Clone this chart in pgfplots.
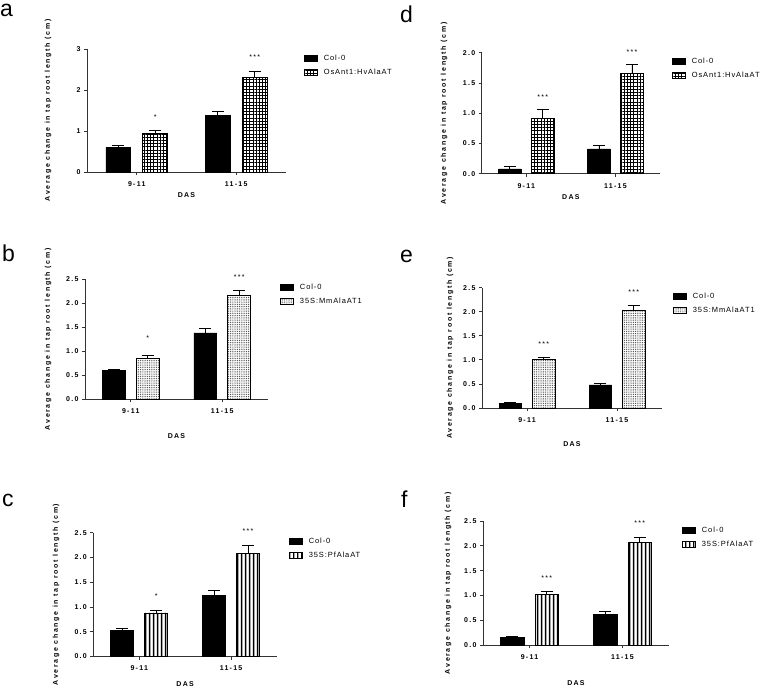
\documentclass[border=0pt]{standalone}
\usepackage{fontspec}
\usepackage{pgfplots}
\pgfplotsset{compat=1.18}
\usetikzlibrary{patterns,patterns.meta}
\newfontfamily\lbl[LetterSpace=18]{Liberation Sans}
\newfontfamily\ylbl[LetterSpace=24]{Liberation Sans}
\newfontfamily\leg[LetterSpace=12]{Liberation Sans}
\newfontfamily\letterfont{Liberation Sans}

\pgfdeclarepatternformonly{vstripes}{\pgfpointorigin}{\pgfpoint{4pt}{60pt}}{\pgfpoint{4pt}{60pt}}%
  {\pgfpathrectangle{\pgfpoint{1.2pt}{0pt}}{\pgfpoint{1.6pt}{60pt}}\pgfusepath{fill}}

\tikzset{stars/.style={font=\lbl\fontsize{7}{8}\selectfont, inner sep=0pt},
  plet/.style={anchor=base west, inner sep=0pt, font=\letterfont\fontsize{23}{23}\selectfont}}
\pgfplotsset{
  boxlegend/.style={legend image code/.code={\draw[##1, line width=0.7pt] (0pt,-3pt) rectangle (13pt,3pt);}},
  colbar/.style={ybar, bar width=0.25, bar shift=0pt, fill=black, draw=black, line width=0.7pt, boxlegend},
  gridbar/.style={ybar, bar width=0.25, bar shift=0pt, draw=black, line width=0.7pt, pattern={Hatch[distance=3.2pt, line width=0.45pt]}, boxlegend},
  dotbar/.style={ybar, bar width=0.25, bar shift=0pt, draw=black, line width=0.7pt, pattern={Dots[distance=1.8pt, radius=0.5pt]}, pattern color=black!80, boxlegend},
  linebar/.style={ybar, bar width=0.25, bar shift=0pt, draw=black, line width=0.7pt, pattern=vstripes, pattern color=black, boxlegend},
  eb/.style={error bars/.cd, y dir=plus, y explicit, error bar style={line width=0.8pt, black}, error mark options={rotate=90, line width=0.8pt, black, mark size=6pt}},
  panel/.style={
    scale only axis, clip=false,
    axis x line*=bottom, axis y line*=left,
    axis line style={line width=0.8pt, black!80},
    xmin=-0.5, xmax=1.5, ymin=0,
    xtick={0,1}, xticklabels={9-11,11-15},
    tick align=outside, major tick length=3pt,
    tick style={line width=0.8pt, black!80},
    ticklabel style={font=\lbl\bfseries\fontsize{7}{8}\selectfont},
    xticklabel style={yshift=-3pt},
    /pgf/number format/assume math mode=true,
    label style={font=\lbl\bfseries\fontsize{7}{8}\selectfont},
    ylabel style={font=\ylbl\bfseries\fontsize{7}{8}\selectfont},
    ylabel={Average change in tap root length (cm)},
    xlabel={DAS},
    legend cell align=left,
    legend style={draw=none, fill=none, inner sep=0pt, row sep=7pt, column sep=6pt,
      font=\leg\fontsize{7.5}{8}\selectfont, anchor=north west, nodes={inner sep=0pt}},
  },
  halfticks/.style={ymax=2.5, ytick={0,0.5,1,1.5,2,2.5},
    yticklabel style={/pgf/number format/fixed, /pgf/number format/fixed zerofill, /pgf/number format/precision=1}},
}

\begin{document}
\begin{tikzpicture}
\useasboundingbox (0,0) rectangle (761pt,697pt);

% panel letters
\node[plet] at (0pt,680pt) {a};
\node[plet] at (2pt,435pt) {b};
\node[plet] at (2pt,190pt) {c};
\node[plet] at (400pt,674pt) {d};
\node[plet] at (400pt,434pt) {e};
\node[plet] at (401pt,189pt) {f};

% ---------- a ----------
\begin{axis}[panel, at={(87pt,525pt)}, anchor=south west, width=199pt, height=123pt,
  ymax=3, ytick={0,1,2,3},
  ylabel style={at={(axis description cs:-0.196,0.5)}, anchor=center},
  xlabel style={at={(axis description cs:0.5,0)}, anchor=center, yshift=-23pt},
  legend style={at={(1.09,0.955)}}]
\addplot[colbar, eb] coordinates {(-0.185,0.60) +- (0,0.04) (0.815,1.39) +- (0,0.08)};
\addlegendentry{Col-0}
\addplot[gridbar, eb] coordinates {(0.185,0.95) +- (0,0.07) (1.185,2.31) +- (0,0.14)};
\addlegendentry{OsAnt1:HvAlaAT}
\node[stars] at (axis cs:0.185,1.34) {*};
\node[stars] at (axis cs:1.185,2.80) {***};
\end{axis}

% ---------- b ----------
\begin{axis}[panel, halfticks, at={(85pt,297.7pt)}, anchor=south west, width=183pt, height=120.3pt,
  ylabel style={at={(axis description cs:-0.202,0.5)}, anchor=center},
  xlabel style={at={(axis description cs:0.5,0)}, anchor=center, yshift=-37pt},
  legend style={at={(1.066,0.958)}}]
\addplot[colbar, eb] coordinates {(-0.185,0.60) +- (0,0.03) (0.815,1.38) +- (0,0.10)};
\addlegendentry{Col-0}
\addplot[dotbar, eb] coordinates {(0.185,0.85) +- (0,0.07) (1.185,2.16) +- (0,0.11)};
\addlegendentry{35S:MmAlaAT1}
\node[stars] at (axis cs:0.185,1.27) {*};
\node[stars] at (axis cs:1.185,2.54) {***};
\end{axis}

% ---------- c ----------
\begin{axis}[panel, halfticks, at={(93.3pt,40.5pt)}, anchor=south west, width=183.7pt, height=123.8pt,
  ylabel style={at={(axis description cs:-0.203,0.5)}, anchor=center},
  xlabel style={at={(axis description cs:0.5,0)}, anchor=center, yshift=-27.5pt},
  legend style={at={(1.065,0.957)}}]
\addplot[colbar, eb] coordinates {(-0.185,0.52) +- (0,0.05) (0.815,1.24) +- (0,0.10)};
\addlegendentry{Col-0}
\addplot[linebar, eb] coordinates {(0.185,0.88) +- (0,0.06) (1.185,2.08) +- (0,0.16)};
\addlegendentry{35S:PfAlaAT}
\node[stars] at (axis cs:0.185,1.22) {*};
\node[stars] at (axis cs:1.185,2.54) {***};
\end{axis}

% ---------- d ----------
\begin{axis}[panel, at={(481.7pt,523.3pt)}, anchor=south west, width=178.3pt, height=121pt,
  ymax=2, ytick={0,0.5,1,1.5,2},
  yticklabel style={/pgf/number format/fixed, /pgf/number format/fixed zerofill, /pgf/number format/precision=1},
  ylabel style={at={(axis description cs:-0.211,0.5)}, anchor=center},
  xlabel style={at={(axis description cs:0.5,0)}, anchor=center, yshift=-23pt},
  legend style={at={(1.067,0.956)}}]
\addplot[colbar, eb] coordinates {(-0.185,0.08) +- (0,0.035) (0.815,0.41) +- (0,0.05)};
\addlegendentry{Col-0}
\addplot[gridbar, eb] coordinates {(0.185,0.92) +- (0,0.14) (1.185,1.66) +- (0,0.15)};
\addlegendentry{OsAnt1:HvAlaAT}
\node[stars] at (axis cs:0.185,1.27) {***};
\node[stars] at (axis cs:1.185,2.01) {***};
\end{axis}

% ---------- e ----------
\begin{axis}[panel, halfticks, at={(482pt,289pt)}, anchor=south west, width=180pt, height=120.3pt,
  ylabel style={at={(axis description cs:-0.178,0.5)}, anchor=center},
  xlabel style={at={(axis description cs:0.5,0)}, anchor=center, yshift=-36pt},
  legend style={at={(1.061,0.956)}}]
\addplot[colbar, eb] coordinates {(-0.185,0.09) +- (0,0.02) (0.815,0.48) +- (0,0.04)};
\addlegendentry{Col-0}
\addplot[dotbar, eb] coordinates {(0.185,1.01) +- (0,0.05) (1.185,2.03) +- (0,0.11)};
\addlegendentry{35S:MmAlaAT1}
\node[stars] at (axis cs:0.185,1.33) {***};
\node[stars] at (axis cs:1.185,2.41) {***};
\end{axis}

% ---------- f ----------
\begin{axis}[panel, halfticks, at={(483pt,51.7pt)}, anchor=south west, width=186pt, height=124.3pt,
  ylabel style={at={(axis description cs:-0.188,0.5)}, anchor=center},
  xlabel style={at={(axis description cs:0.5,0)}, anchor=center, yshift=-37.7pt},
  legend style={at={(1.07,0.952)}}]
\addplot[colbar, eb] coordinates {(-0.185,0.15) +- (0,0.03) (0.815,0.62) +- (0,0.06)};
\addlegendentry{Col-0}
\addplot[linebar, eb] coordinates {(0.185,1.03) +- (0,0.05) (1.185,2.07) +- (0,0.11)};
\addlegendentry{35S:PfAlaAT}
\node[stars] at (axis cs:0.185,1.35) {***};
\node[stars] at (axis cs:1.185,2.46) {***};
\end{axis}
\end{tikzpicture}
\end{document}
